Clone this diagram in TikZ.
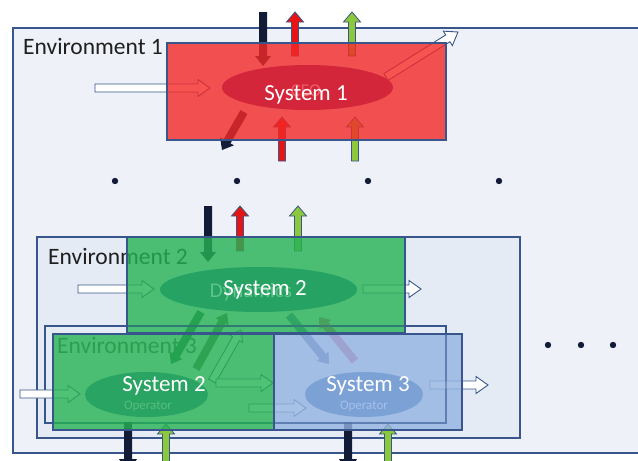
\documentclass[tikz,border=0pt]{standalone}
\usepackage{fontspec}
\setmainfont{Carlito}
\usetikzlibrary{calc,shapes.geometric}
\definecolor{envfill}{RGB}{238,242,248}
\definecolor{envfillB}{RGB}{229,235,245}
\definecolor{edge}{RGB}{56,85,140}
\definecolor{redbox}{RGB}{244,40,38}
\definecolor{redell}{RGB}{212,38,58}
\definecolor{grnbox}{RGB}{37,179,83}
\definecolor{grnell}{RGB}{38,162,98}
\definecolor{bluebox}{RGB}{147,179,226}
\definecolor{blueell}{RGB}{120,158,212}
\definecolor{arrred}{RGB}{232,20,20}
\definecolor{arrgrn}{RGB}{140,200,60}
\definecolor{navy}{RGB}{18,28,55}
\definecolor{dkgrn}{RGB}{40,95,65}
\definecolor{gygrn}{RGB}{85,105,85}
\definecolor{steel}{RGB}{90,115,165}
\definecolor{mauve}{RGB}{205,95,130}
\newcommand\barrow[6][]{%
  \coordinate (baS) at (#2); \coordinate (baE) at (#3);
  \coordinate (baH) at ($(baE)!#6!(baS)$);
  \path[#1] ($(baS)!#4/2!90:(baE)$) -- ($(baH)!#4/2!-90:(baS)$) -- ($(baH)!#5/2!-90:(baS)$)
    -- (baE) -- ($(baH)!#5/2!90:(baS)$) -- ($(baH)!#4/2!90:(baS)$) -- ($(baS)!#4/2!-90:(baE)$) -- cycle;
}
\tikzset{
  envbox/.style={draw=edge, line width=1.3pt},
  sysbox/.style={draw=edge, line width=1.3pt, fill opacity=0.8},
  hollow/.style={draw=edge, fill=white, line width=0.9pt, line join=miter},
  redup/.style={draw=edge, fill=arrred, line width=0.8pt},
  grnup/.style={draw=edge, fill=arrgrn, line width=0.8pt},
  blk/.style={fill=navy},
  envlabel/.style={anchor=base west, font=\fontsize{23.5}{24}\selectfont, text=black!88, inner sep=0},
  syslabel/.style={anchor=base, font=\fontsize{23}{24}\selectfont, text=white, inner sep=0},
  faint/.style={anchor=base, inner sep=0},
  sysell/.style={ellipse, inner sep=0, draw=none},
  dot/.style={fill=navy}
}
\begin{document}
\begin{tikzpicture}[x=1pt,y=-1pt]
\useasboundingbox (0,0) rectangle (638,461);
\fill[white] (0,0) rectangle (638,461);
% environments
\draw[envbox, fill=envfill] (13,28) rectangle (660,453);
\node[envlabel] (e1) at (23,54) {Environment 1};
\draw[envbox, fill=envfillB] (37,237) rectangle (520,438);
\node[envlabel] (e2) at (48,264) {Environment 2};
\draw[envbox, fill=envfillB] (45,326) rectangle (446,423);
\node[envlabel, text=black!70] (e3) at (57,353) {Environment 3};
% dots
\foreach \x in {115,237,368,499} \fill[dot] (\x,181) circle (3.2pt);
\foreach \x in {548,581,613} \fill[dot] (\x,345) circle (3.2pt);
% ---- arrows of System 1
\barrow[hollow]{95,88}{210,88}{8pt}{17pt}{12pt}
\barrow[blk]{263,12}{263,66}{8pt}{16pt}{10pt}
\barrow[redup]{295,56}{295,12}{7pt}{17pt}{10pt}
\barrow[grnup]{352,56}{352,12}{7pt}{17pt}{10pt}
\barrow[hollow]{386,77}{458,32}{8pt}{17pt}{12pt}
\barrow[blk]{244,112}{222,150}{8pt}{16pt}{10pt}
\barrow[redup]{282,161}{282,117}{7pt}{17pt}{10pt}
\barrow[grnup]{355,161}{355,117}{7pt}{17pt}{10pt}
% ---- arrows of System 2 (top)
\barrow[hollow]{78,289}{154,289}{8pt}{17pt}{12pt}
\barrow[blk]{208,206}{208,262}{8pt}{16pt}{10pt}
\barrow[redup]{240,251}{240,206}{7pt}{17pt}{10pt}
\barrow[grnup]{298,251}{298,206}{7pt}{17pt}{10pt}
\barrow[hollow]{363,289}{421,289}{8pt}{17pt}{12pt}
\barrow[fill=dkgrn]{201,312}{171,364}{8pt}{15pt}{10pt}
\barrow[fill=gygrn]{196,369}{227,313}{8pt}{15pt}{10pt}
\barrow[hollow]{212,381}{241,330}{8pt}{15pt}{10pt}
\barrow[fill=steel]{289,315}{329,364}{8pt}{15pt}{10pt}
\barrow[fill=mauve]{355,361}{319,317}{8pt}{15pt}{10pt}
% ---- arrows of System 2 (operator) and System 3
\barrow[hollow]{20,394}{80,394}{8pt}{17pt}{12pt}
\barrow[hollow]{216,383}{273,383}{8pt}{17pt}{12pt}
\barrow[hollow]{249,408}{306,408}{8pt}{17pt}{12pt}
\barrow[blk]{128,422}{128,474}{8pt}{18pt}{15pt}
\barrow[grnup]{166,480}{166,424}{7pt}{17pt}{10pt}
\barrow[blk]{348,422}{348,474}{8pt}{18pt}{15pt}
\barrow[grnup]{388,480}{388,424}{7pt}{17pt}{10pt}
\barrow[hollow]{430,385}{488,385}{8pt}{17pt}{12pt}
% ---- system boxes
\draw[sysbox, fill=redbox] (167,43) rectangle (446,140);
\draw[sysbox, fill=grnbox] (127,237) rectangle (405,333);
\draw[envbox, draw opacity=0.5] (45,326) -- (405,326);
\draw[sysbox, fill=grnbox] (53,334) rectangle (274,430);
\draw[sysbox, fill=bluebox] (274,334) rectangle (462,430);
\draw[envbox, draw opacity=0.45] (274,423) -- (446,423) -- (446,334);
% ---- systems
\node[sysell, fill=redell, minimum width=171pt, minimum height=45pt] (s1) at (307.5,87.5) {};
\node[faint, font=\fontsize{18}{18}\selectfont, text={rgb,255:red,238;green,92;blue,102}] (ceo) at (306,96) {CEO};
\node[syslabel] (t1) at (306,100) {System 1};
\node[sysell, fill=grnell, minimum width=197pt, minimum height=45pt] (s2) at (258.5,289.5) {};
\node[faint, font=\fontsize{21}{21}\selectfont, text={rgb,255:red,95;green,196;blue,138}] (dyn) at (251,297) {Dynamics};
\node[syslabel] (t2) at (265,295) {System 2};
\node[sysell, fill=grnell, fill opacity=0.9, minimum width=123pt, minimum height=45pt] (s2o) at (146.5,394.5) {};
\node[syslabel] (t2o) at (164,391) {System 2};
\node[faint, font=\fontsize{13}{13}\selectfont, text={rgb,255:red,85;green,190;blue,125}] (op2) at (148,409) {Operator};
\node[sysell, fill=blueell, fill opacity=0.9, minimum width=118pt, minimum height=45pt] (s3) at (364,394.5) {};
\node[syslabel] (t3) at (368,391) {System 3};
\node[faint, font=\fontsize{13}{13}\selectfont, text={rgb,255:red,165;green,192;blue,235}] (op3) at (364,409) {Operator};
\end{tikzpicture}
\end{document}
